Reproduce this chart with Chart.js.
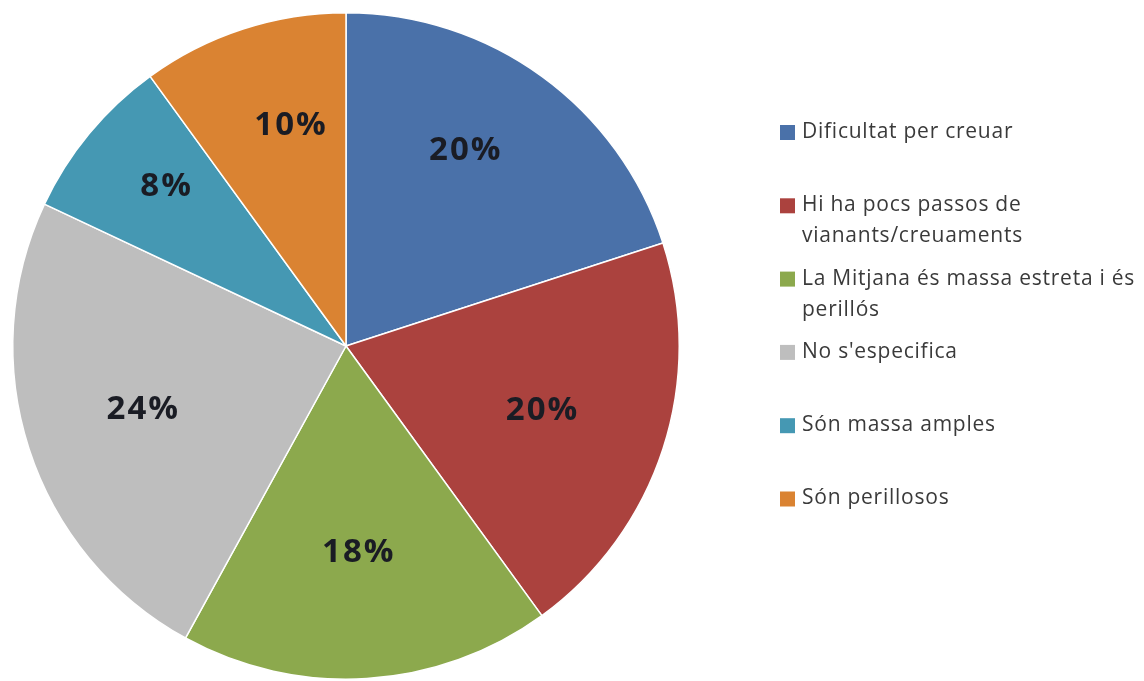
<!DOCTYPE html>
<html>
<head>
<meta charset="utf-8">
<style>
  html, body { margin: 0; padding: 0; background: #ffffff; }
  #wrap { position: relative; width: 1144px; height: 681px; }
</style>
<script src="https://cdn.jsdelivr.net/npm/chart.js@4.4.1/dist/chart.umd.min.js"></script>
</head>
<body>
<div id="wrap"><canvas id="c" width="1144" height="681"></canvas></div>
<script>
// ---- data ----
const categories = [
  "Dificultat per creuar",
  "Hi ha pocs passos de vianants/creuaments",
  "La Mitjana és massa estreta i és perillós",
  "No s'especifica",
  "Són massa amples",
  "Són perillosos"
];
const percentValues = [20, 20, 18, 24, 8, 10];
const sliceColors = ["#4A71A9", "#AB423E", "#8CA94D", "#BEBEBE", "#4598B3", "#DA8332"];
// label placement (fraction of radius, angle offset in degrees)
const labelRadiusFactor = [0.69, 0.617, 0.617, 0.64, 0.725, 0.685];
const labelAngleOffset = [-4.9, 0, 0.3, 0.8, 2.1, 3.8];

// ---- labels on slices ----
const sliceLabels = {
  id: 'sliceLabels',
  afterDatasetsDraw(chart) {
    const ctx = chart.ctx;
    const meta = chart.getDatasetMeta(0);
    ctx.save();
    ctx.font = 'bold 33px "Open Sans", sans-serif';
    if ('letterSpacing' in ctx) ctx.letterSpacing = '2px';
    ctx.fillStyle = '#1a1c24';
    ctx.textAlign = 'center';
    ctx.textBaseline = 'middle';
    meta.data.forEach((arc, i) => {
      const p = arc.getProps(['x', 'y', 'startAngle', 'endAngle', 'outerRadius'], true);
      const mid = (p.startAngle + p.endAngle) / 2 + labelAngleOffset[i] * Math.PI / 180;
      const r = p.outerRadius * labelRadiusFactor[i];
      const x = p.x + Math.cos(mid) * r;
      const y = p.y + Math.sin(mid) * r;
      ctx.fillText(percentValues[i] + '%', x + 1, y + 1);
    });
    ctx.restore();
  }
};

// ---- legend drawn on canvas ----
const sideLegend = {
  id: 'sideLegend',
  afterDraw(chart) {
    const ctx = chart.ctx;
    const boxX = 780, textX = 802, firstY = 132, slot = 73.3, lineGap = 31, maxW = 345;
    ctx.save();
    ctx.font = '21px "Open Sans", sans-serif';
    if ('letterSpacing' in ctx) ctx.letterSpacing = '0.75px';
    ctx.textBaseline = 'middle';
    ctx.textAlign = 'left';
    categories.forEach((label, i) => {
      const words = label.split(' ');
      const lines = [];
      let cur = '';
      words.forEach(w => {
        const test = cur ? cur + ' ' + w : w;
        if (ctx.measureText(test).width > maxW && cur) { lines.push(cur); cur = w; }
        else cur = test;
      });
      if (cur) lines.push(cur);
      const y0 = firstY + i * slot;
      ctx.fillStyle = sliceColors[i];
      ctx.fillRect(boxX, y0 - 7, 15, 15);
      ctx.fillStyle = '#3a3a3a';
      lines.forEach((ln, k) => ctx.fillText(ln, textX, y0 + k * lineGap));
    });
    ctx.restore();
  }
};

new Chart(document.getElementById('c'), {
  type: 'pie',
  data: {
    labels: categories,
    datasets: [{
      data: percentValues,
      backgroundColor: sliceColors,
      borderColor: '#ffffff',
      borderWidth: 1.5
    }]
  },
  options: {
    responsive: false,
    animation: false,
    layout: { padding: { left: 12, right: 464, top: 12, bottom: 1 } },
    plugins: {
      legend: { display: false },
      tooltip: { enabled: false }
    }
  },
  plugins: [sliceLabels, sideLegend]
});
</script>
</body>
</html>
